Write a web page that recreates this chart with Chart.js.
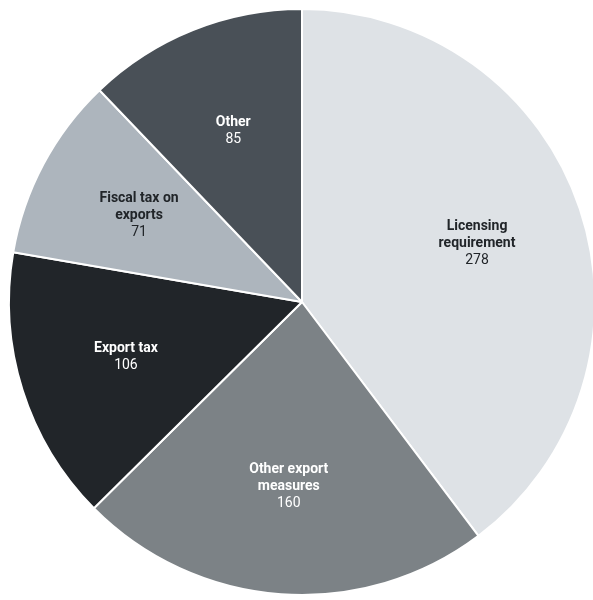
<!DOCTYPE html>
<html>
<head>
<meta charset="utf-8">
<script src="https://cdn.jsdelivr.net/npm/chart.js@4"></script>
<style>
  html, body { margin: 0; padding: 0; background: #fff; overflow: hidden; }
  #wrap { position: absolute; left: 0; top: 0; width: 604px; height: 604px; }
</style>
</head>
<body>
<div id="wrap"><canvas id="pie" width="604" height="604"></canvas></div>
<script>
// categories (one entry per slice, split into display lines)
const categories = [
  ["Licensing", "requirement"],
  ["Other export", "measures"],
  ["Export tax"],
  ["Fiscal tax on", "exports"],
  ["Other"],
];
const values = [278, 160, 106, 71, 85];
const sliceColors = ["#dee2e6", "#7c8286", "#212529", "#adb5bd", "#495057"];
const textColors = ["#212529", "#ffffff", "#ffffff", "#212529", "#ffffff"];

// draws name (bold) + value in each slice, ~63% of the radius out
const sliceLabels = {
  id: "sliceLabels",
  afterDatasetsDraw(chart) {
    const ctx = chart.ctx;
    const meta = chart.getDatasetMeta(0);
    meta.data.forEach((arc, i) => {
      const mid = (arc.startAngle + arc.endAngle) / 2;
      const r = arc.outerRadius * 0.63;
      const x = arc.x + Math.cos(mid) * r;
      const y = arc.y + Math.sin(mid) * r;
      const lines = categories[i];
      const lh = 17;
      const total = lines.length + 1;
      let y0 = y - ((total - 1) * lh) / 2;
      ctx.save();
      ctx.textAlign = "center";
      ctx.textBaseline = "middle";
      ctx.fillStyle = textColors[i];
      ctx.font = "bold 14px Roboto";
      lines.forEach((t, k) => ctx.fillText(t, x, y0 + k * lh));
      ctx.font = "14px Roboto";
      ctx.fillText(String(values[i]), x, y0 + lines.length * lh);
      ctx.restore();
    });
  },
};

new Chart(document.getElementById("pie"), {
  type: "pie",
  data: {
    labels: categories.map((c) => c.join(" ")),
    datasets: [{
      data: values,
      backgroundColor: sliceColors,
      borderColor: "#ffffff",
      borderWidth: 2,
    }],
  },
  options: {
    responsive: false,
    animation: false,
    layout: { padding: 8 },
    plugins: { legend: { display: false }, tooltip: { enabled: false } },
  },
  plugins: [sliceLabels],
});
</script>
</body>
</html>
